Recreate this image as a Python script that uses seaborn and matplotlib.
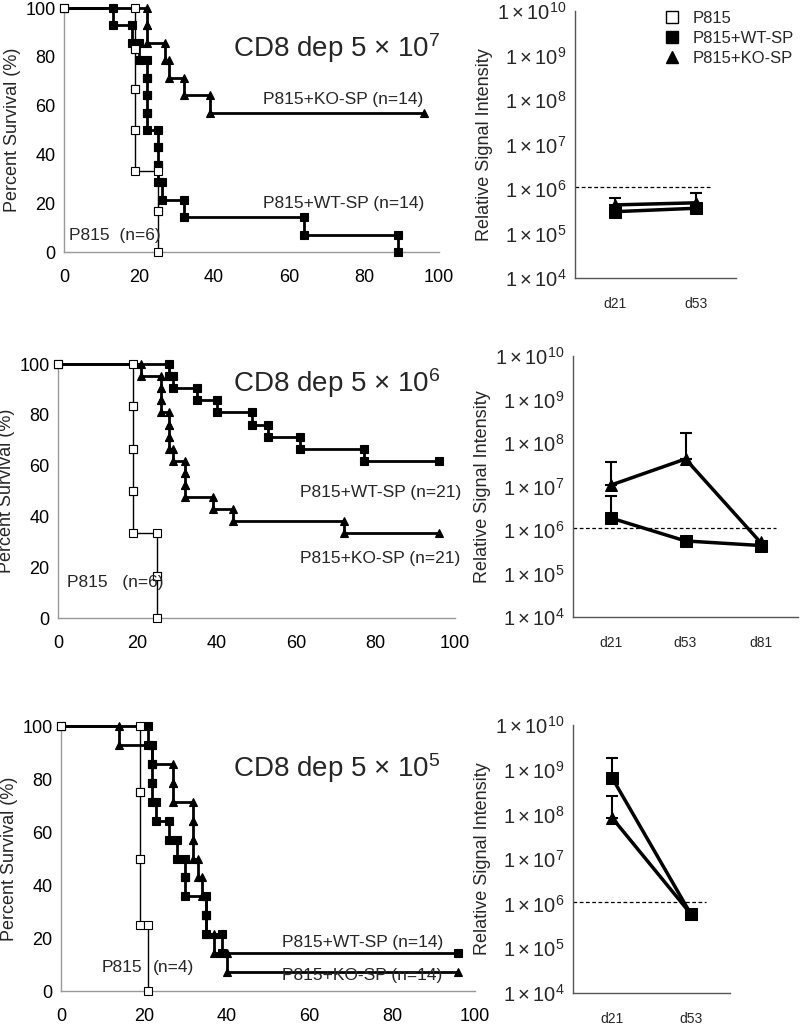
import numpy as np
import pandas as pd
import matplotlib
matplotlib.use('Agg')
import matplotlib.pyplot as plt
from matplotlib.lines import Line2D
import seaborn as sns

# ---- survival data: day of death for each mouse, group size, end of follow-up
follow_up = 96
p815_days_7 = [19, 19, 19, 19, 25, 25]
wt_days_7 = [13, 18, 20, 22, 22, 22, 22, 25, 25, 25, 26, 32, 64, 89]
ko_days_7 = [22, 22, 27, 28, 32, 39]
n_7 = [6, 14, 14]

p815_days_6 = [19, 19, 19, 19, 25, 25]
wt_days_6 = [28, 29, 35, 40, 49, 53, 61, 77]
ko_days_6 = [21, 26, 26, 26, 28, 28, 28, 29, 32, 32, 32, 39, 44, 72]
n_6 = [6, 21, 21]

p815_days_5 = [19, 19, 19, 21]
wt_days_5 = [21, 22, 22, 22, 23, 26, 28, 30, 30, 35, 35, 39]
ko_days_5 = [14, 22, 27, 27, 32, 32, 32, 33, 34, 35, 35, 37, 40]
n_5 = [4, 14, 14]

# ---- relative signal intensity (mean and upper error bar end)
days_7 = ['d21', 'd53']
wt_sig_7 = [3.1e5, 3.7e5]
ko_sig_7 = [4.4e5, 4.9e5]
wt_err_7 = [np.nan, np.nan]
ko_err_7 = [6.3e5, 8.0e5]

days_6 = ['d21', 'd53', 'd81']
wt_sig_6 = [1.9e6, 5.6e5, 4.4e5]
ko_sig_6 = [1.07e7, 4.3e7, 5.2e5]
wt_err_6 = [6.0e6, np.nan, np.nan]
ko_err_6 = [3.6e7, 1.7e8, np.nan]

days_5 = ['d21', 'd53']
wt_sig_5 = [6.5e8, 5.9e5]
ko_sig_5 = [8.3e7, 5.9e5]
wt_err_5 = [1.8e9, np.nan]
ko_err_5 = [2.6e8, np.nan]

threshold = 1.1e6

sns.set_theme(style='white')
plt.rcParams['font.family'] = ['Liberation Sans', 'DejaVu Sans']
plt.rcParams['mathtext.fontset'] = 'custom'
plt.rcParams['mathtext.rm'] = 'Liberation Sans'
plt.rcParams['mathtext.it'] = 'Liberation Sans:italic'
plt.rcParams['mathtext.bf'] = 'Liberation Sans:bold'

fig = plt.figure(figsize=(8, 10.29), dpi=100)


def step_points(days, n):
    """Kaplan-Meier style vertices, one marker at each corner."""
    xs, ys = [0], [100.0]
    surv = 100.0
    for d in days:
        xs.append(d)
        ys.append(surv)
        surv = surv - 100.0 / n
        xs.append(d)
        ys.append(surv)
    if surv > 0.01:
        xs.append(follow_up)
        ys.append(surv)
    return xs, ys


def survival_panel(rect, p815, wt, ko, sizes, texts):
    ax = fig.add_axes(rect)
    groups = [(wt, sizes[1], 's', 'black', 2.0, 5.5),
              (ko, sizes[2], '^', 'black', 2.0, 5.5),
              (p815, sizes[0], 's', 'white', 1.0, 5.5)]
    for days, n, mk, face, lw, ms in groups:
        xs, ys = step_points(days, n)
        sns.lineplot(x=xs, y=ys, sort=False, estimator=None, ax=ax,
                     color='black', lw=lw, marker=mk, markersize=ms,
                     markerfacecolor=face, markeredgecolor='black',
                     markeredgewidth=0.8, clip_on=False, zorder=3)
    ax.set_xlim(0, 100)
    ax.set_ylim(0, 100)
    ax.set_xticks(range(0, 101, 20))
    ax.set_yticks(range(0, 101, 20))
    for s in ['top', 'right']:
        ax.spines[s].set_visible(False)
    for s in ['left', 'bottom']:
        ax.spines[s].set_color('#999999')
        ax.spines[s].set_linewidth(1.0)
    ax.tick_params(axis='both', direction='out', length=4, width=1,
                   color='#999999', labelsize=13, labelcolor='black')
    ax.tick_params(axis='x', pad=8)
    ax.tick_params(axis='y', pad=2)
    ax.set_ylabel('Percent Survival (%)', fontsize=13, labelpad=3)
    for x, y, s, fs in texts:
        ax.text(x, y, s, fontsize=fs, ha='left', va='center')
    return ax


def signal_panel(rect, days, wt, ko, wt_err, ko_err, legend=False):
    ax = fig.add_axes(rect)
    df = pd.DataFrame({
        'day': list(range(len(days))) * 2,
        'signal': wt + ko,
        'group': ['P815+WT-SP'] * len(days) + ['P815+KO-SP'] * len(days),
    })
    sns.lineplot(data=df, x='day', y='signal', hue='group', style='group',
                 markers={'P815+WT-SP': 's', 'P815+KO-SP': '^'}, dashes=False,
                 palette={'P815+WT-SP': 'black', 'P815+KO-SP': 'black'},
                 markersize=9, lw=2.5, ax=ax, legend=False, zorder=3,
                 markeredgecolor='black')
    pos = np.arange(len(days))
    for mean, top in [(wt, wt_err), (ko, ko_err)]:
        mean = np.array(mean)
        top = np.array(top)
        ok = ~np.isnan(top)
        ax.errorbar(pos[ok], mean[ok],
                    yerr=[np.zeros(ok.sum()), top[ok] - mean[ok]],
                    fmt='none', ecolor='black', elinewidth=1.5, capsize=4,
                    capthick=1.5, zorder=2)
    ax.hlines(threshold, -0.5, len(days) - 0.8, colors='black',
              linestyles=(0, (3, 2)), lw=0.9, zorder=1)
    ax.set_yscale('log')
    ax.set_ylim(1e4, 1e10)
    ax.set_xlim(-0.5, len(days) - 0.5)
    yt = [10.0 ** k for k in range(4, 11)]
    ax.set_yticks(yt, [r'$1\times10^{%d}$' % k for k in range(4, 11)])
    ax.yaxis.set_minor_locator(matplotlib.ticker.NullLocator())
    ax.set_xticks(pos, days)
    ax.set_xticks(pos + 0.5, minor=True)
    ax.tick_params(axis='x', which='major', length=0, labelsize=10, pad=14)
    ax.tick_params(axis='x', which='minor', length=4, width=1,
                   direction='out', color='#555555')
    ax.tick_params(axis='y', which='major', length=4, width=1,
                   direction='out', color='#555555', labelsize=14.5, pad=2)
    for s in ['top', 'right']:
        ax.spines[s].set_visible(False)
    for s in ['left', 'bottom']:
        ax.spines[s].set_color('#555555')
        ax.spines[s].set_linewidth(1.0)
    ax.set_xlabel('')
    ax.set_ylabel('Relative Signal Intensity', fontsize=13, labelpad=3)
    if legend:
        handles = [
            Line2D([], [], ls='none', marker='s', ms=9, mfc='white',
                   mec='black', label='P815'),
            Line2D([], [], ls='none', marker='s', ms=9, mfc='black',
                   mec='black', label='P815+WT-SP'),
            Line2D([], [], ls='none', marker='^', ms=9, mfc='black',
                   mec='black', label='P815+KO-SP'),
        ]
        ax.legend(handles=handles, loc='upper left',
                  bbox_to_anchor=(0.5, 1.03), frameon=False, fontsize=12,
                  handlelength=1.0, handletextpad=0.7, labelspacing=0.3,
                  borderpad=0)
    return ax


survival_panel([0.08, 0.7551, 0.469, 0.2371],
               p815_days_7, wt_days_7, ko_days_7, n_7,
               [(45, 83.6, 'CD8 dep 5 × 10$^{7}$', 20),
                (53, 62.7, 'P815+KO-SP (n=14)', 12.5),
                (53, 20, 'P815+WT-SP (n=14)', 12.5),
                (1.3, 6.6, 'P815  (n=6)', 12.5)])
survival_panel([0.0725, 0.3994, 0.496, 0.2468],
               p815_days_6, wt_days_6, ko_days_6, n_6,
               [(44, 92.5, 'CD8 dep 5 × 10$^{6}$', 20),
                (61, 49.6, 'P815+WT-SP (n=21)', 12.5),
                (61, 23.6, 'P815+KO-SP (n=21)', 12.5),
                (2.3, 13.8, 'P815   (n=6)', 12.5)])
survival_panel([0.07625, 0.0369, 0.5175, 0.2575],
               p815_days_5, wt_days_5, ko_days_5, n_5,
               [(41.5, 84, 'CD8 dep 5 × 10$^{5}$', 20),
                (53.4, 18.5, 'P815+WT-SP (n=14)', 12.5),
                (53.4, 6.0, 'P815+KO-SP (n=14)', 12.5),
                (9.9, 9, 'P815', 12.5),
                (22.2, 9, '(n=4)', 12.5)])

signal_panel([0.71875, 0.7298, 0.20125, 0.2595],
             days_7, wt_sig_7, ko_sig_7, wt_err_7, ko_err_7, legend=True)
signal_panel([0.71625, 0.4004, 0.28125, 0.2536],
             days_6, wt_sig_6, ko_sig_6, wt_err_6, ko_err_6)
signal_panel([0.71625, 0.035, 0.19625, 0.2604],
             days_5, wt_sig_5, ko_sig_5, wt_err_5, ko_err_5)

fig.savefig('out.png', dpi=100)
